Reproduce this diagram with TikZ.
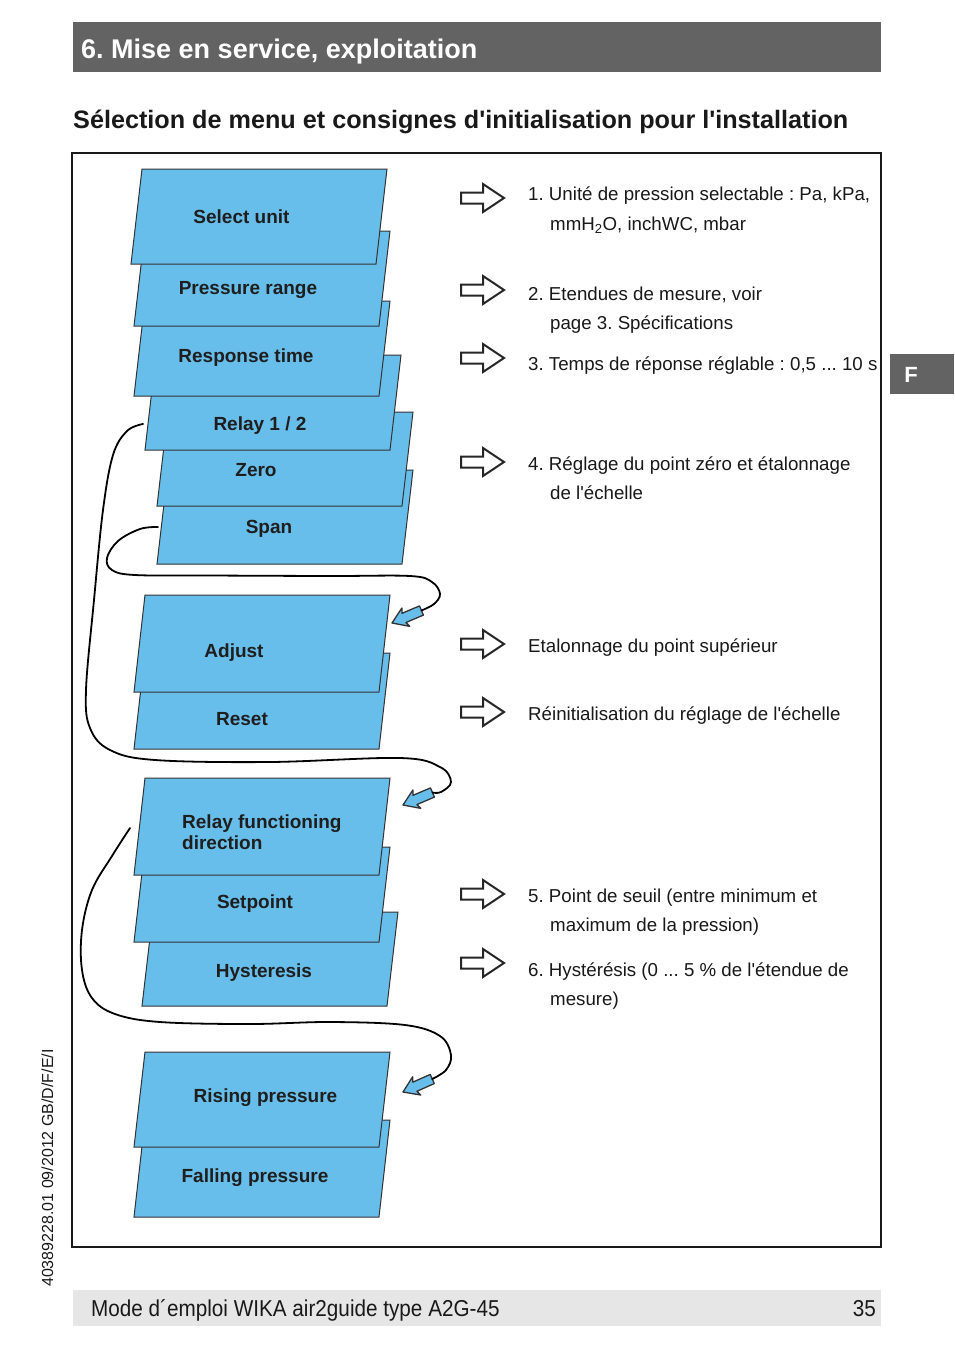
\documentclass[tikz,border=0pt]{standalone}
\usepackage{fontspec}
\setmainfont{Liberation Sans}[Ligatures=TeXOff]
\newfontfamily\narrowfont{Liberation Sans}[FakeStretch=0.9, Ligatures=TeXOff]
\definecolor{boxblue}{RGB}{104,190,234}
\definecolor{hdrgray}{RGB}{99,99,99}
\definecolor{ftgray}{RGB}{230,230,230}
\definecolor{boxtext}{RGB}{30,30,30}
\definecolor{txt}{RGB}{25,25,25}
\tikzset{
  menubox/.style={fill=boxblue, draw=black!80, line width=1pt, line join=miter},
  boxlabel/.style={font=\fontsize{19}{21}\selectfont\bfseries, text=boxtext, inner sep=0pt, anchor=base},
  rtext/.style={font=\fontsize{18.7}{22}\selectfont, anchor=base west, inner sep=0pt, text=txt},
  loopline/.style={line width=1.8pt, black, line cap=round},
  hollowarrow/.style={draw=black!85, line width=2pt, fill=white, line join=miter},
  bluearrow/.style={fill=boxblue, draw=black!80, line width=1.3pt, line join=round},
}
\newcommand{\menupara}[3]{% BLx, BLy, height
  \draw[menubox] (#1,#2) -- ++(245,0) -- ++(11,-#3) -- ++(-245,0) -- cycle;}
\newcommand{\hollowarr}[1]{% center y
  \draw[hollowarrow, shift={(0,#1)}] (461,-5.5) -- (483,-5.5) -- (483,-14) -- (504,0) -- (483,14) -- (483,5.5) -- (461,5.5) -- cycle;}
\newcommand{\bluearr}[4]{% name, tipx, tipy, angle
  \begin{scope}[shift={(#2,#3)}, rotate=#4]
    \draw[bluearrow] (0pt,0pt) -- (-15pt,10pt) -- (-13pt,5pt) -- (-32pt,5pt) -- (-32pt,-5pt) -- (-13pt,-5pt) -- (-15pt,-10pt) -- cycle;
    \coordinate (#1) at (-32pt,0pt);
  \end{scope}}
\begin{document}
\frenchspacing
\begin{tikzpicture}[x=1pt, y=-1pt]
\useasboundingbox (0,0) rectangle (954,1345);
\fill[white] (0,0) rectangle (954,1345);

% header
\fill[hdrgray] (73,22) rectangle (881,72);
\node[anchor=base west, inner sep=0pt, text=white, font=\fontsize{27}{30}\selectfont\bfseries] (hdr) at (81,58) {6. Mise en service, exploitation};
\node[anchor=base west, inner sep=0pt, text=txt, font=\fontsize{25.2}{28}\selectfont\bfseries] (subt) at (73,128) {Sélection de menu et consignes d'initialisation pour l'installation};

% tab
\fill[hdrgray] (890,354) rectangle (954,394);
\node[anchor=base, inner sep=0pt, text=white, font=\fontsize{22}{24}\selectfont\bfseries] (tabF) at (911,382) {F};

% frame
\draw[line width=1.8pt, black!90] (72,153) rectangle (881,1247);

% group 1
\menupara{157}{564}{94}
\menupara{157}{506}{94}
\menupara{145}{450}{95}
\menupara{134}{396}{95}
\menupara{134}{326}{95}
\menupara{131}{264}{95}
\node[boxlabel] (b1) at (241.5,223) {Select unit};
\node[boxlabel] (b2) at (248,294) {Pressure range};
\node[boxlabel] (b3) at (246,362) {Response time};
\node[boxlabel] (b4) at (260,430) {Relay 1 / 2};
\node[boxlabel] (b5) at (256,476) {Zero};
\node[boxlabel] (b6) at (269,533) {Span};

% group 2
\menupara{134}{749}{96}
\menupara{134}{692}{97}
\node[boxlabel] (b7) at (234,657) {Adjust};
\node[boxlabel] (b8) at (242,725) {Reset};

% group 3
\menupara{142}{1006}{94}
\menupara{134}{942}{95}
\menupara{134}{875}{97}
\node[font=\fontsize{19}{21}\selectfont\bfseries, text=boxtext, inner sep=0pt, anchor=west, align=left] (b9) at (182,832) {Relay functioning\\direction};
\node[boxlabel] (b10) at (255,908) {Setpoint};
\node[boxlabel] (b11) at (264,977) {Hysteresis};

% group 4
\menupara{134}{1217}{97}
\menupara{134}{1147}{95}
\node[boxlabel] (b12) at (265.5,1102) {Rising pressure};
\node[boxlabel] (b13) at (255,1182) {Falling pressure};

% blue arrows
\bluearr{a1t}{392}{623}{203}
\bluearr{a2t}{403}{805}{203}
\bluearr{a3t}{403}{1092}{204}

% loop connectors
\coordinate (c1s) at (143,424);
\coordinate (c2s) at (158,527);
\coordinate (c3s) at (130,828);
\draw[loopline] plot[smooth, tension=0.6] coordinates {(c1s) (127,431) (113,455) (103,510) (94,600) (86,690) (90,728) (110,750) (155,760) (270,762) (400,758) (440,767) (451,782) (441,792) (a2t)};
\draw[loopline] plot[smooth, tension=0.6] coordinates {(c2s) (140,529) (118,541) (107,558) (112,570) (135,575) (210,575.5) (330,576) (410,576) (432,582) (440,594) (434,604) (a1t)};
\draw[loopline] plot[smooth, tension=0.6] coordinates {(c3s) (112,856) (92,890) (82,930) (82,970) (92,998) (115,1014) (160,1022) (250,1024) (330,1022) (405,1025) (440,1036) (451,1055) (446,1070) (a3t)};

% hollow arrows
\hollowarr{198}
\hollowarr{290}
\hollowarr{358}
\hollowarr{462}
\hollowarr{644}
\hollowarr{712}
\hollowarr{894}
\hollowarr{963}

% right texts
\node[rtext] (t1a) at (528,200) {1. Unité de pression selectable : Pa, kPa,};
\node[rtext] (t1b) at (550,230) {mmH\textsubscript{2}O, inchWC, mbar};
\node[rtext] (t2a) at (528,300) {2. Etendues de mesure, voir};
\node[rtext] (t2b) at (550,329) {page 3. Spécifications};
\node[rtext] (t3) at (528,370) {3. Temps de réponse réglable : 0,5 ... 10 s};
\node[rtext] (t4a) at (528,470) {4. Réglage du point zéro et étalonnage};
\node[rtext] (t4b) at (550,499) {de l'échelle};
\node[rtext] (t5) at (528,652) {Etalonnage du point supérieur};
\node[rtext] (t6) at (528,720) {Réinitialisation du réglage de l'échelle};
\node[rtext] (t7a) at (528,902) {5. Point de seuil (entre minimum et};
\node[rtext] (t7b) at (550,931) {maximum de la pression)};
\node[rtext] (t8a) at (528,976) {6. Hystérésis (0 ... 5 \% de l'étendue de};
\node[rtext] (t8b) at (550,1005) {mesure)};

% side code
\node[rotate=90, anchor=base west, inner sep=0pt, text=txt, font=\fontsize{16}{18}\selectfont] (code) at (53,1287) {40389228.01 09/2012 GB/D/F/E/I};

% footer
\fill[ftgray] (73,1290) rectangle (881,1326);
\node[anchor=base west, inner sep=0pt, text=txt, font=\narrowfont\fontsize{23}{25}\selectfont] (foot) at (91,1316) {Mode d´emploi WIKA air2guide type A2G-45};
\node[anchor=base east, inner sep=0pt, text=txt, font=\narrowfont\fontsize{23}{25}\selectfont] (page) at (876,1316) {35};
\end{tikzpicture}
\end{document}
